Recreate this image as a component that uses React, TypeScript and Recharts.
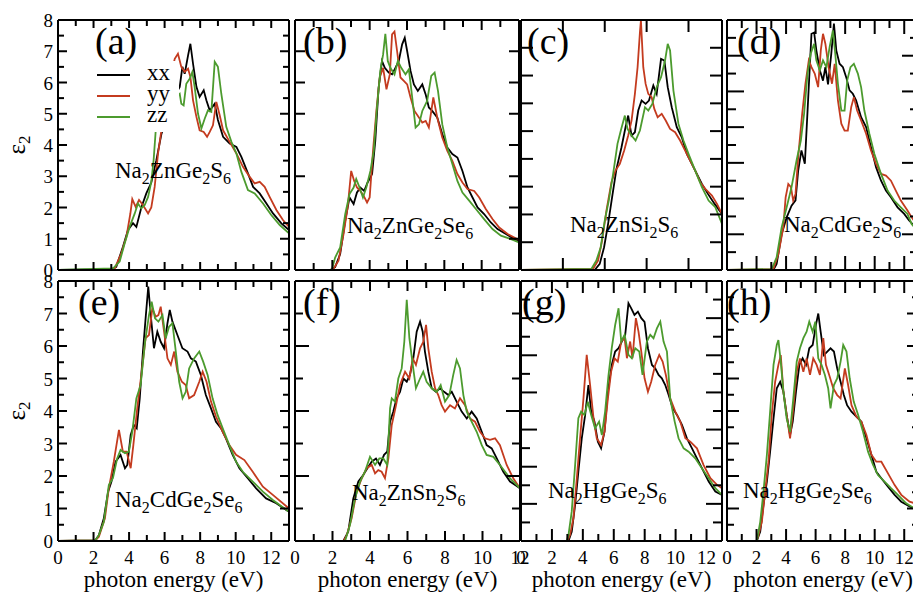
import React from "react";
import { LineChart, Line, XAxis, YAxis, Legend } from "recharts";

type Pt = [number, number];

// photon energy (eV), epsilon_2, one list per panel and polarisation
const aXX: Pt[] = [[0,0],[3.0,0.02],[3.28,0.1],[3.66,0.75],[3.94,1.28],[4.22,1.5],[4.41,1.38],[4.69,2.0],[4.97,2.45],[5.25,2.8],[5.53,3.5],[5.82,4.35],[6.2,5.0],[6.5,5.5],[6.85,5.86],[7.0,6.5],[7.13,6.28],[7.32,6.87],[7.45,7.24],[7.6,6.6],[7.79,5.86],[7.97,5.54],[8.2,5.75],[8.35,5.43],[8.54,5.1],[8.82,5.32],[9.0,4.8],[9.29,4.26],[9.66,4.05],[10.04,3.94],[10.32,3.62],[10.69,3.09],[10.98,2.66],[11.35,2.45],[11.73,2.13],[12.1,1.81],[12.57,1.49],[13,1.28]];
const aYY: Pt[] = [[0,0],[3.0,0.01],[3.19,0.05],[3.56,0.53],[3.85,1.06],[4.07,1.8],[4.18,2.27],[4.37,2.02],[4.56,2.24],[4.78,2.08],[5.07,1.81],[5.25,2.0],[5.44,2.66],[5.63,3.73],[5.82,4.47],[6.1,5.4],[6.38,6.3],[6.57,6.76],[6.75,6.92],[6.94,6.5],[7.13,6.34],[7.32,6.44],[7.45,6.18],[7.6,5.43],[7.79,4.9],[7.97,4.47],[8.2,4.42],[8.39,4.26],[8.54,4.42],[8.72,4.63],[8.91,5.38],[9.1,4.95],[9.29,4.47],[9.66,4.1],[10.04,3.73],[10.41,3.3],[10.79,2.98],[11.07,2.77],[11.35,2.82],[11.63,2.66],[11.91,2.34],[12.29,1.92],[12.66,1.6],[13,1.38]];
const aZZ: Pt[] = [[0,0],[3.1,0.05],[3.47,0.27],[3.75,0.85],[4.03,1.38],[4.32,1.81],[4.5,2.13],[4.69,1.97],[4.88,2.08],[5.07,2.34],[5.25,2.82],[5.38,3.51],[5.5,4.47],[5.8,5.0],[6.2,5.3],[6.6,5.5],[6.85,5.64],[6.94,5.32],[7.07,5.27],[7.22,5.96],[7.41,6.12],[7.56,6.34],[7.69,5.86],[7.88,5.0],[8.07,4.53],[8.26,4.85],[8.44,5.11],[8.63,5.06],[8.82,6.66],[9.0,6.5],[9.19,5.64],[9.47,4.58],[9.76,4.1],[10.04,3.73],[10.32,3.14],[10.69,2.56],[11.07,2.45],[11.54,2.13],[12.0,1.76],[12.48,1.44],[13,1.17]];

const bXX: Pt[] = [[0,0],[1.88,0],[2.15,0.09],[2.42,0.51],[2.69,1.58],[2.92,2.32],[3.14,2.11],[3.32,2.48],[3.5,2.64],[3.71,2.53],[3.89,2.8],[4.13,3.07],[4.3,4.13],[4.48,5.84],[4.66,6.69],[4.81,6.47],[5.02,6.32],[5.2,6.26],[5.38,6.47],[5.56,6.69],[5.74,7.22],[5.88,7.43],[6.01,7.0],[6.19,6.37],[6.37,5.94],[6.58,5.73],[6.82,5.94],[7.0,5.62],[7.17,5.2],[7.35,5.09],[7.62,4.88],[7.89,4.35],[8.16,3.92],[8.43,3.71],[8.7,3.6],[8.97,3.17],[9.24,2.64],[9.51,2.32],[9.78,2.0],[10.13,1.79],[10.49,1.52],[10.85,1.31],[11.3,1.15],[11.75,0.99],[12,0.94]];
const bYY: Pt[] = [[0,0],[1.9,0],[2.06,0.03],[2.33,0.3],[2.6,1.15],[2.82,2.0],[3.01,3.17],[3.17,2.85],[3.32,2.64],[3.5,2.53],[3.68,2.37],[3.86,2.16],[4.0,2.32],[4.18,3.81],[4.36,5.09],[4.54,6.16],[4.72,6.47],[4.9,5.78],[5.08,6.26],[5.2,7.54],[5.33,7.63],[5.47,7.0],[5.65,6.16],[5.83,6.05],[6.01,5.94],[6.19,5.52],[6.4,5.09],[6.64,4.88],[6.82,4.72],[7.0,4.77],[7.17,4.56],[7.41,5.52],[7.62,4.88],[7.89,4.24],[8.16,3.81],[8.43,3.49],[8.7,3.07],[8.97,2.8],[9.24,2.59],[9.6,2.53],[9.87,2.32],[10.22,1.95],[10.58,1.63],[10.94,1.36],[11.39,1.15],[12,0.96]];
const bZZ: Pt[] = [[0,0],[1.97,0],[2.15,0.4],[2.42,0.72],[2.69,1.79],[2.92,2.43],[3.14,2.64],[3.28,2.91],[3.46,2.64],[3.64,2.32],[3.82,2.64],[4.04,3.17],[4.22,3.81],[4.39,5.2],[4.57,6.37],[4.72,6.9],[4.84,7.56],[4.97,6.69],[5.11,6.47],[5.33,6.26],[5.51,6.69],[5.69,6.47],[5.92,6.26],[6.1,6.42],[6.28,5.52],[6.46,4.56],[6.64,4.66],[6.82,5.09],[7.08,5.41],[7.3,6.21],[7.48,6.32],[7.66,5.73],[7.89,4.66],[8.16,3.92],[8.43,3.39],[8.7,2.85],[8.97,2.48],[9.33,2.22],[9.69,1.95],[10.13,1.63],[10.58,1.31],[11.03,1.1],[11.57,0.99],[12,0.88]];

const cXX: Pt[] = [[0,0],[4.4,0],[4.7,0.22],[4.96,0.82],[5.2,1.66],[5.44,2.62],[5.7,3.64],[6.0,4.42],[6.24,5.14],[6.4,5.56],[6.6,4.84],[6.8,4.96],[7.0,5.74],[7.2,6.1],[7.44,5.98],[7.64,6.1],[7.9,6.64],[8.1,6.34],[8.36,7.6],[8.56,7.54],[8.76,6.58],[9.0,5.86],[9.3,5.14],[9.6,4.78],[9.9,4.18],[10.2,3.82],[10.5,3.46],[10.8,3.1],[11.16,2.74],[11.56,2.38],[12,2.02]];
const cYY: Pt[] = [[0,0],[4.3,0.04],[4.6,0.34],[4.84,1.06],[5.1,2.14],[5.4,3.16],[5.64,3.58],[5.9,3.82],[6.16,4.3],[6.4,4.84],[6.6,5.38],[6.8,6.34],[6.96,7.3],[7.1,8.56],[7.16,8.98],[7.3,7.3],[7.44,6.7],[7.6,6.34],[7.8,6.22],[7.96,5.8],[8.16,5.5],[8.4,5.62],[8.64,5.38],[8.9,5.08],[9.2,4.96],[9.5,4.66],[9.8,4.3],[10.1,3.94],[10.4,3.58],[10.7,3.16],[11.0,2.92],[11.4,2.68],[11.7,2.38],[12,2.02]];
const cZZ: Pt[] = [[0,0],[4.2,0.04],[4.5,0.34],[4.76,0.82],[5.0,1.78],[5.24,2.5],[5.5,3.46],[5.76,4.54],[5.96,5.02],[6.2,5.56],[6.36,5.08],[6.6,4.84],[6.84,4.66],[7.1,5.02],[7.4,5.86],[7.6,5.74],[7.84,5.98],[8.1,6.58],[8.36,6.94],[8.6,7.54],[8.76,8.14],[8.9,7.9],[9.1,6.46],[9.4,5.26],[9.7,4.66],[10.0,4.18],[10.4,3.58],[10.8,2.98],[11.2,2.5],[11.6,2.26],[12,1.66]];

const dXX: Pt[] = [[0,0],[3.14,0],[3.36,0.34],[3.7,2.0],[4.04,2.95],[4.37,3.6],[4.64,3.9],[4.82,5.57],[5.04,6.7],[5.27,5.95],[5.49,9.5],[5.72,13.23],[5.9,13.3],[6.05,12.3],[6.28,11.2],[6.5,10.6],[6.66,11.36],[6.84,10.4],[7.06,12.1],[7.24,13.8],[7.4,12.3],[7.62,11.55],[7.85,11.36],[8.07,10.8],[8.3,10.06],[8.52,9.87],[8.74,9.5],[9.08,8.56],[9.42,8.0],[9.75,6.88],[10.09,5.76],[10.43,5.0],[10.76,4.45],[11.1,4.07],[11.55,3.51],[12.0,3.14],[12.33,2.77],[13,2.2]];
const dYY: Pt[] = [[0,0],[3.14,0.05],[3.48,0.9],[3.81,2.39],[3.97,4.07],[4.15,4.82],[4.33,4.64],[4.48,3.89],[4.64,4.26],[4.82,6.32],[5.09,8.75],[5.31,10.43],[5.54,11.74],[5.72,11.36],[5.94,11.0],[6.17,10.24],[6.35,12.3],[6.5,13.23],[6.66,12.67],[6.88,11.36],[7.11,10.43],[7.29,11.55],[7.51,9.5],[7.74,8.19],[7.96,7.81],[8.18,7.81],[8.41,9.12],[8.59,9.68],[8.81,8.93],[9.08,8.37],[9.42,7.63],[9.75,6.69],[10.09,5.94],[10.43,5.38],[10.76,5.29],[11.1,5.0],[11.43,4.45],[11.77,3.89],[12.22,3.33],[12.5,2.95],[13,2.4]];
const dZZ: Pt[] = [[0,0],[3.03,0.05],[3.36,0.71],[3.7,2.39],[4.04,3.51],[4.37,4.64],[4.71,6.13],[5.0,7.25],[5.22,8.75],[5.45,11.0],[5.67,12.11],[5.9,12.67],[6.05,11.74],[6.28,11.18],[6.5,11.74],[6.73,11.36],[6.95,12.49],[7.17,13.42],[7.33,12.11],[7.51,10.43],[7.74,8.93],[7.96,8.93],[8.14,10.62],[8.36,11.36],[8.59,11.55],[8.86,11.0],[9.08,10.24],[9.3,8.93],[9.64,7.63],[9.98,6.5],[10.43,5.38],[10.87,4.45],[11.32,3.89],[11.77,3.51],[12.22,3.14],[12.5,2.58],[13,2.1]];

const eXX: Pt[] = [[0,0],[2.1,0.02],[2.3,0.18],[2.58,0.7],[2.82,1.52],[3.01,1.83],[3.24,2.44],[3.52,2.65],[3.77,2.24],[3.9,2.34],[4.09,3.26],[4.27,3.57],[4.43,3.47],[4.6,4.39],[4.78,5.83],[4.93,6.85],[5.08,7.83],[5.22,6.95],[5.4,5.93],[5.59,6.44],[5.78,6.13],[5.97,5.93],[6.16,6.7],[6.29,7.11],[6.44,6.75],[6.72,6.34],[7.0,5.93],[7.29,5.83],[7.48,5.62],[7.76,5.52],[8.04,5.11],[8.32,4.49],[8.61,4.08],[8.89,3.67],[9.17,3.47],[9.45,3.16],[9.83,2.65],[10.21,2.24],[10.68,1.93],[11.15,1.62],[11.71,1.31],[12.28,1.16],[13,0.9]];
const eYY: Pt[] = [[0,0],[2.1,0.02],[2.3,0.13],[2.64,0.7],[2.86,1.62],[3.14,2.44],[3.43,3.42],[3.65,2.75],[3.86,2.75],[4.09,2.24],[4.24,2.95],[4.46,4.08],[4.71,5.21],[4.93,6.24],[5.12,6.34],[5.31,7.16],[5.5,6.9],[5.65,6.95],[5.78,7.21],[5.97,6.44],[6.16,5.62],[6.35,5.42],[6.54,5.83],[6.72,5.21],[6.97,4.9],[7.19,4.8],[7.38,4.39],[7.66,4.49],[7.95,4.9],[8.14,5.21],[8.36,4.9],[8.61,4.29],[8.89,3.83],[9.27,3.36],[9.64,2.95],[10.02,2.65],[10.49,2.49],[10.96,2.13],[11.53,1.67],[12.09,1.42],[13,1.0]];
const eZZ: Pt[] = [[0,0],[2.1,0.02],[2.3,0.18],[2.58,0.59],[2.86,1.72],[3.09,1.93],[3.33,2.54],[3.52,2.8],[3.77,2.7],[3.99,2.75],[4.18,3.36],[4.41,4.39],[4.65,4.8],[4.9,6.13],[5.12,6.95],[5.27,7.36],[5.46,6.85],[5.65,6.75],[5.88,6.95],[6.06,6.24],[6.25,6.59],[6.44,6.7],[6.63,5.83],[6.82,4.9],[7.01,4.39],[7.19,4.59],[7.38,5.31],[7.66,5.62],[7.95,5.83],[8.17,5.52],[8.42,5.11],[8.7,4.39],[8.98,3.88],[9.27,3.47],[9.64,2.95],[10.02,2.44],[10.4,2.13],[10.96,1.83],[11.53,1.52],[12.09,1.26],[13,0.9]];

const fXX: Pt[] = [[0,0],[2.58,0],[2.84,0.29],[3.11,1.31],[3.38,1.83],[3.64,2.03],[3.86,2.24],[4.09,2.44],[4.32,2.54],[4.53,2.34],[4.75,2.65],[4.92,2.75],[5.07,3.67],[5.24,3.98],[5.42,4.39],[5.6,4.59],[5.78,5.0],[5.96,4.9],[6.13,5.11],[6.31,5.62],[6.49,6.44],[6.67,6.75],[6.81,6.44],[6.93,5.83],[7.11,5.21],[7.29,4.7],[7.52,4.59],[7.73,4.7],[7.95,4.59],[8.18,4.49],[8.36,4.59],[8.62,4.29],[8.89,3.98],[9.16,3.77],[9.42,3.98],[9.69,3.77],[9.96,3.36],[10.22,2.95],[10.49,2.85],[10.76,2.54],[11.11,2.13],[11.47,1.83],[12,1.62]];
const fYY: Pt[] = [[0,0],[2.6,0],[2.76,0.18],[3.02,0.7],[3.29,1.52],[3.56,1.93],[3.82,2.24],[4.09,2.34],[4.27,2.08],[4.44,2.18],[4.62,2.13],[4.8,1.93],[4.98,2.54],[5.16,3.57],[5.39,4.18],[5.6,4.8],[5.87,5.21],[6.1,5.0],[6.28,5.62],[6.45,5.42],[6.67,5.93],[6.84,6.13],[6.99,6.65],[7.11,5.93],[7.29,5.21],[7.47,4.7],[7.64,4.49],[7.82,4.18],[8.0,3.98],[8.27,4.18],[8.53,4.08],[8.8,4.39],[9.07,4.18],[9.33,3.77],[9.6,3.67],[9.87,3.36],[10.13,3.16],[10.4,3.11],[10.67,3.16],[10.93,2.95],[11.29,2.34],[11.64,1.93],[12,1.62]];
const fZZ: Pt[] = [[0,0],[2.67,0],[2.93,0.49],[3.2,1.31],[3.47,1.83],[3.73,2.13],[4.0,2.59],[4.27,2.34],[4.5,2.54],[4.71,2.54],[4.92,2.34],[5.07,4.08],[5.16,4.39],[5.33,4.29],[5.51,5.0],[5.69,5.31],[5.83,6.13],[5.96,7.42],[6.1,6.24],[6.28,5.42],[6.45,4.7],[6.67,5.0],[6.84,5.21],[7.02,4.9],[7.29,4.7],[7.56,4.59],[7.77,4.8],[8.0,4.29],[8.23,4.49],[8.44,5.11],[8.62,5.57],[8.8,5.31],[8.98,4.49],[9.16,3.98],[9.42,3.67],[9.69,3.36],[9.96,2.95],[10.22,2.65],[10.58,2.59],[10.93,2.34],[11.47,1.93],[12,1.62]];

const gXX: Pt[] = [[0,0],[3.07,0],[3.28,0.5],[3.5,1.94],[3.71,3.73],[3.93,5.53],[4.15,6.79],[4.36,8.4],[4.54,6.97],[4.75,6.43],[4.97,5.35],[5.18,4.99],[5.4,5.89],[5.62,8.04],[5.87,9.48],[6.09,10.2],[6.31,10.38],[6.52,10.74],[6.74,11.1],[6.95,12.8],[7.13,12.53],[7.34,12.17],[7.56,12.35],[7.78,12.0],[7.99,11.8],[8.21,10.38],[8.47,9.48],[8.68,9.3],[8.9,8.94],[9.11,8.76],[9.33,8.4],[9.55,7.86],[9.81,7.15],[10.09,6.79],[10.41,6.25],[10.73,5.53],[11.06,4.99],[11.38,4.45],[11.71,3.91],[12.14,3.2],[12.57,2.66],[13,2.48]];
const gYY: Pt[] = [[0,0],[3.0,0],[3.17,0.32],[3.39,1.22],[3.61,3.38],[3.82,5.53],[4.04,7.68],[4.25,10.02],[4.47,8.4],[4.69,6.61],[4.9,5.53],[5.18,5.17],[5.4,5.89],[5.62,7.68],[5.83,9.12],[6.05,9.84],[6.26,9.66],[6.48,10.74],[6.7,10.92],[6.85,9.84],[7.06,10.74],[7.21,9.84],[7.43,12.0],[7.6,11.27],[7.78,10.2],[7.99,8.76],[8.21,8.04],[8.42,8.58],[8.68,9.48],[8.94,10.02],[9.16,9.66],[9.37,8.94],[9.65,7.68],[9.98,6.97],[10.3,6.43],[10.63,5.53],[10.95,5.35],[11.38,4.99],[11.81,4.09],[12.25,3.38],[12.68,3.02],[13,2.84]];
const gZZ: Pt[] = [[0,0],[2.95,0],[3.07,0.32],[3.28,1.58],[3.5,4.09],[3.71,6.61],[3.89,6.97],[4.1,6.79],[4.32,7.5],[4.54,6.79],[4.79,6.07],[5.05,6.43],[5.23,5.71],[5.44,6.97],[5.66,8.94],[5.87,10.38],[6.09,11.63],[6.31,12.53],[6.48,10.74],[6.7,11.1],[6.95,10.02],[7.17,9.84],[7.39,10.38],[7.65,10.2],[7.86,8.94],[8.14,10.74],[8.36,11.1],[8.57,10.92],[8.79,11.45],[9.01,11.81],[9.22,10.74],[9.44,10.2],[9.65,7.68],[9.94,6.43],[10.19,5.53],[10.52,4.99],[10.84,4.81],[11.27,4.45],[11.71,3.91],[12.14,3.38],[12.57,2.84],[13,2.48]];

const hXX: Pt[] = [[0,0],[2.02,0],[2.25,0.29],[2.47,1.11],[2.7,1.83],[2.92,2.75],[3.15,3.77],[3.37,4.7],[3.6,4.9],[3.82,4.59],[4.04,3.88],[4.27,3.26],[4.45,3.67],[4.67,4.59],[4.9,5.42],[5.12,5.62],[5.35,5.42],[5.57,5.93],[5.8,6.03],[6.02,6.65],[6.18,7.0],[6.34,6.44],[6.56,5.72],[6.79,5.83],[7.01,5.93],[7.24,5.83],[7.46,5.31],[7.69,4.9],[7.91,4.49],[8.13,4.18],[8.43,3.98],[8.76,3.83],[9.1,3.67],[9.44,3.16],[9.78,2.65],[10.11,2.13],[10.45,1.93],[10.9,1.67],[11.35,1.42],[11.8,1.21],[12.36,1.06],[12.7,1.0],[13,0.95]];
const hYY: Pt[] = [[0,0],[2.0,0],[2.13,0.18],[2.36,0.59],[2.58,1.52],[2.81,2.44],[3.03,3.88],[3.26,4.9],[3.48,5.42],[3.64,5.72],[3.82,4.59],[4.04,3.88],[4.27,3.16],[4.49,4.08],[4.72,5.21],[4.94,5.62],[5.17,5.21],[5.39,5.62],[5.62,5.11],[5.84,5.62],[6.07,5.42],[6.29,5.11],[6.52,6.24],[6.7,5.42],[6.92,5.11],[7.19,4.7],[7.46,4.49],[7.69,4.39],[7.98,5.31],[8.2,4.8],[8.43,4.18],[8.76,3.83],[9.1,3.67],[9.44,3.26],[9.78,2.65],[10.11,2.44],[10.45,2.44],[10.9,2.08],[11.35,1.72],[11.8,1.42],[12.36,1.21],[12.7,1.16],[13,1.1]];
const hZZ: Pt[] = [[0,0],[2.02,0],[2.25,0.59],[2.47,1.52],[2.7,2.65],[2.92,3.98],[3.15,5.42],[3.37,6.03],[3.48,6.18],[3.64,5.52],[3.82,4.59],[4.04,3.77],[4.27,3.36],[4.49,4.39],[4.72,5.52],[4.94,5.93],[5.17,6.24],[5.39,6.44],[5.57,6.75],[5.8,6.44],[5.98,6.75],[6.18,5.62],[6.4,5.42],[6.63,5.11],[6.85,4.7],[7.01,4.08],[7.24,4.8],[7.46,5.0],[7.69,5.52],[7.87,6.03],[8.09,5.83],[8.31,5.0],[8.58,4.29],[8.88,3.88],[9.21,3.36],[9.55,2.75],[9.89,2.34],[10.22,2.03],[10.67,1.83],[11.12,1.62],[11.57,1.42],[12.13,1.16],[12.7,1.0],[13,0.95]];

// ticks and labels
const xTicks13 = [0, 1, 2, 3, 4, 5, 6, 7, 8, 9, 10, 11, 12, 13];
const xTicks12 = [0, 1, 2, 3, 4, 5, 6, 7, 8, 9, 10, 11, 12];
const xTicksC = [2.5, 5, 7.5, 10];
const xLabelVals = [0, 2, 4, 6, 8, 10, 12];
const yTicksHalf8 = [0, 0.5, 1, 1.5, 2, 2.5, 3, 3.5, 4, 4.5, 5, 5.5, 6, 6.5, 7, 7.5, 8];
const yTicks8 = [0, 1, 2, 3, 4, 5, 6, 7, 8];
const yTicks9 = [0, 1, 2, 3, 4, 5, 6, 7, 8, 9];
const yTicks14 = [0, 1, 2, 3, 4, 5, 6, 7, 8, 9, 10, 11, 12, 13, 14];
const yLabelVals = [0, 1, 2, 3, 4, 5, 6, 7, 8];

const seriesNames = ["xx", "yy", "zz"];
const RED = "#c43b1f";
const GREEN = "#4c9b2e";
const colors = ["#000000", RED, GREEN];
const FONT = "'Liberation Serif', 'DejaVu Serif', serif";

const LEFT = 45, TOP = 10, RIGHT = 10, BOTTOM = 30;

const panels = [
  { key: "a", tag: "(a)", tx: 95, ty: 54, name: ["Na", "2", "ZnGe", "2", "S", "6"], nx: 115, ny: 178, left: 58, top: 20, w: 231, h: 250, xMax: 13, yMax: 8, xTicks: xTicks13, yTicks: yTicksHalf8, xMajor: 2, yMajor: 1, xLen: [8, 6], yLen: [9, 6], xLabels: false, yLabels: true, legend: true, data: [aXX, aYY, aZZ] },
  { key: "b", tag: "(b)", tx: 303, ty: 54, name: ["Na", "2", "ZnGe", "2", "Se", "6"], nx: 347, ny: 233, left: 295, top: 20, w: 224, h: 250, xMax: 12, yMax: 8, xTicks: xTicks12, yTicks: yTicks8, xMajor: 2, yMajor: 1, xLen: [10, 7], yLen: [10, 10], xLabels: false, yLabels: false, legend: false, data: [bXX, bYY, bZZ] },
  { key: "c", tag: "(c)", tx: 527, ty: 54, name: ["Na", "2", "ZnSi", "2", "S", "6"], nx: 570, ny: 232, left: 521, top: 20, w: 201, h: 250, xMax: 12, yMax: 9, xTicks: xTicksC, yTicks: yTicks9, xMajor: 2.5, yMajor: 1, xLen: [12, 12], yLen: [12, 12], xLabels: false, yLabels: false, legend: false, data: [cXX, cYY, cZZ] },
  { key: "d", tag: "(d)", tx: 737, ty: 54, name: ["Na", "2", "CdGe", "2", "S", "6"], nx: 784, ny: 232, left: 727, top: 20, w: 192, h: 250, xMax: 13, yMax: 14, xTicks: xTicks13, yTicks: yTicks14, xMajor: 2, yMajor: 2, xLen: [14, 8], yLen: [17, 9], xLabels: false, yLabels: false, legend: false, data: [dXX, dYY, dZZ] },
  { key: "e", tag: "(e)", tx: 78, ty: 315, name: ["Na", "2", "CdGe", "2", "Se", "6"], nx: 115, ny: 507, left: 58, top: 281, w: 231, h: 260, xMax: 13, yMax: 8, xTicks: xTicks13, yTicks: yTicksHalf8, xMajor: 2, yMajor: 1, xLen: [9, 6], yLen: [9, 6], xLabels: true, yLabels: true, legend: false, data: [eXX, eYY, eZZ] },
  { key: "f", tag: "(f)", tx: 303, ty: 315, name: ["Na", "2", "ZnSn", "2", "S", "6"], nx: 352, ny: 500, left: 295, top: 281, w: 225, h: 260, xMax: 12, yMax: 8, xTicks: xTicks12, yTicks: yTicks8, xMajor: 2, yMajor: 2, xLen: [10, 7], yLen: [14, 8], xLabels: true, yLabels: false, legend: false, data: [fXX, fYY, fZZ] },
  { key: "g", tag: "(g)", tx: 522, ty: 315, name: ["Na", "2", "HgGe", "2", "S", "6"], nx: 548, ny: 498, left: 521, top: 281, w: 201, h: 260, xMax: 13, yMax: 14, xTicks: xTicks13, yTicks: yTicks14, xMajor: 2, yMajor: 2, xLen: [12, 7], yLen: [16, 9], xLabels: true, yLabels: false, legend: false, data: [gXX, gYY, gZZ] },
  { key: "h", tag: "(h)", tx: 727, ty: 315, name: ["Na", "2", "HgGe", "2", "Se", "6"], nx: 743, ny: 498, left: 727, top: 281, w: 192, h: 260, xMax: 13, yMax: 8, xTicks: xTicks13, yTicks: yTicksHalf8, xMajor: 2, yMajor: 1, xLen: [12, 7], yLen: [12, 7], xLabels: true, yLabels: false, legend: false, data: [hXX, hYY, hZZ] },
];

type PanelCfg = (typeof panels)[number];

const onStep = (v: number, step: number) => Math.abs(v / step - Math.round(v / step)) < 1e-6;

// inward tick marks drawn at the positions the axis scale hands us
const makeTick = (p: PanelCfg, side: "bottom" | "top" | "left" | "right") => (props: any) => {
  const { x, y, payload } = props;
  const v = payload.value as number;
  const horiz = side === "bottom" || side === "top";
  const [lMaj, lMin] = horiz ? p.xLen : p.yLen;
  const len = onStep(v, horiz ? p.xMajor : p.yMajor) ? lMaj : lMin;
  let x2 = x, y2 = y;
  if (side === "bottom") y2 = y - len;
  if (side === "top") y2 = y + len;
  if (side === "left") x2 = x + len;
  if (side === "right") x2 = x - len;
  const showX = side === "bottom" && p.xLabels && xLabelVals.includes(v);
  const showY = side === "left" && p.yLabels && yLabelVals.includes(v);
  return (
    <g>
      <line x1={x} y1={y} x2={x2} y2={y2} stroke="#000" strokeWidth={2} />
      {showX && (
        <text x={x} y={y + 23} textAnchor="middle" fontSize={19} fontFamily={FONT} fill="#000">{v}</text>
      )}
      {showY && (
        <text x={x - 5} y={y + 7} textAnchor="end" fontSize={19} fontFamily={FONT} fill="#000">{v}</text>
      )}
    </g>
  );
};

const renderLegend = (props: any) => (
  <svg width={91} height={71} style={{ display: "block", background: "#fff" }}>
    {(props.payload || []).map((e: any, i: number) => (
      <g key={i}>
        <line x1={9} x2={42} y1={14 + i * 21} y2={14 + i * 21} stroke={e.color} strokeWidth={2} />
        <text x={59} y={19 + i * 21} fontSize={23} fontFamily={FONT} fill="#000">{e.value}</text>
      </g>
    ))}
  </svg>
);

const axisLine = { stroke: "#000", strokeWidth: 2 };

function Panel({ p }: { p: PanelCfg }) {
  const W = LEFT + p.w + RIGHT;
  const H = TOP + p.h + BOTTOM;
  const common = { tickSize: 0, tickMargin: 0, tickLine: false, axisLine, interval: 0 as const, allowDataOverflow: true };
  return (
    <div style={{ position: "absolute", left: p.left - LEFT, top: p.top - TOP }}>
      <LineChart width={W} height={H} margin={{ top: 0, right: 0, bottom: 0, left: 0 }}>
        <XAxis xAxisId="b" type="number" dataKey="x" domain={[0, p.xMax]} ticks={p.xTicks} height={BOTTOM} tick={makeTick(p, "bottom")} {...common} />
        <XAxis xAxisId="t" orientation="top" type="number" dataKey="x" domain={[0, p.xMax]} ticks={p.xTicks} height={TOP} tick={makeTick(p, "top")} {...common} />
        <YAxis yAxisId="l" type="number" domain={[0, p.yMax]} ticks={p.yTicks} width={LEFT} tick={makeTick(p, "left")} {...common} />
        <YAxis yAxisId="r" orientation="right" type="number" domain={[0, p.yMax]} ticks={p.yTicks} width={RIGHT} tick={makeTick(p, "right")} {...common} />
        {p.data.map((arr, i) => (
          <Line
            key={seriesNames[i]}
            xAxisId="b"
            yAxisId="l"
            data={arr.map(([x, y]) => ({ x, y }))}
            dataKey="y"
            name={seriesNames[i]}
            stroke={colors[i]}
            strokeWidth={1.8}
            dot={false}
            type="linear"
            isAnimationActive={false}
          />
        ))}
        {p.legend && (
          <Legend
            layout="horizontal"
            verticalAlign="middle"
            align="center"
            content={renderLegend}
            wrapperStyle={{ left: 88 - (p.left - LEFT), top: 61 - (p.top - TOP), width: 91, height: 71, background: "#fff" }}
          />
        )}
      </LineChart>
    </div>
  );
}

export default function App() {
  return (
    <div style={{ position: "fixed", left: 0, top: 0, width: 913, height: 594, overflow: "hidden", background: "#fff" }}>
      {panels.map((p) => <Panel key={p.key} p={p} />)}
      <svg width={913} height={594} style={{ position: "absolute", left: 0, top: 0, pointerEvents: "none" }} fontFamily={FONT}>
        {panels.map((p) => (
          <g key={p.key}>
            <text x={p.tx} y={p.ty} fontSize={38} fill="#000">{p.tag}</text>
            <text x={p.nx} y={p.ny} fontSize={23} fill="#000">
              {p.name.map((s, i) =>
                i % 2 === 1 ? (
                  <tspan key={i} fontSize={16} dy={6}>{s}</tspan>
                ) : (
                  <tspan key={i} dy={i === 0 ? 0 : -6}>{s}</tspan>
                )
              )}
            </text>
          </g>
        ))}
        {[145, 411].map((cy) => (
          <text key={cy} x={25} y={cy} fontSize={25} fill="#000" textAnchor="middle" transform={`rotate(-90, 25, ${cy})`}>
            ε<tspan fontSize={17} dy={5}>2</tspan>
          </text>
        ))}
        {panels.filter((p) => p.xLabels).map((p) => (
          <text key={p.key} x={p.left + p.w / 2} y={587} fontSize={23} fill="#000" textAnchor="middle">photon energy (eV)</text>
        ))}
      </svg>
    </div>
  );
}
